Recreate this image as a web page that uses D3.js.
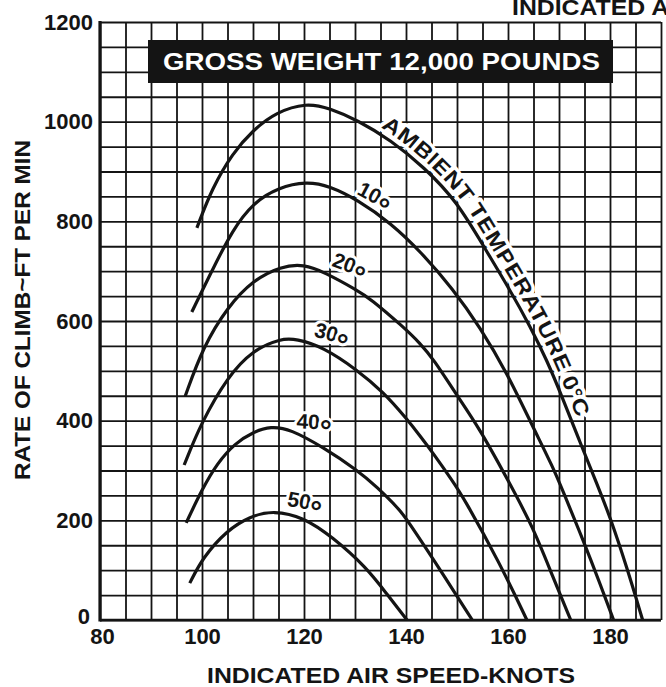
<!DOCTYPE html>
<html>
<head>
<meta charset="utf-8">
<script src="https://cdn.jsdelivr.net/npm/d3@7"></script>
<style>
  html, body { margin: 0; padding: 0; background: #fff; }
  svg { display: block; }
  text { font-family: "Liberation Sans", Arial, Helvetica, sans-serif; }
</style>
</head>
<body>
<svg id="chart" width="666" height="687"></svg>
<script>
// Rate of climb (ft/min) against indicated air speed (knots), one curve per ambient temperature (°C)
const temperatures = [0, 10, 20, 30, 40, 50];

const climb0 = [[99,787],[102,867],[106,937],[110,983],[114.5,1019],[120.5,1038],[125,1027],[130.5,1003],[137,963],[143.5,909],[150,840],[155.5,745],[160.4,662],[164.3,590],[167.6,522],[170.8,443],[174.1,357],[177.5,272],[180,207],[183.3,106],[186.4,0]];
const climb10 = [[98,618],[102,702],[106,783],[110,837],[115,868],[120.5,880],[125,871],[130.5,843],[137,797],[143,738],[149.2,664],[154.5,588],[159.8,496],[164.9,387],[168.8,307],[170.8,258],[174.7,161],[178,74],[180.7,0]];
const climb20 = [[96.7,449],[100.2,548],[105,628],[110,682],[115.5,710],[120,714],[124,698],[130.4,662],[133,645],[139.5,588],[142.7,556],[145.5,522],[149.5,458],[154.5,383],[159.8,284],[164.9,187],[168.8,86],[172.3,0]];
const climb30 = [[96.5,311],[99.8,395],[105,488],[110,542],[115.5,565],[118.5,564],[123.7,548],[130.4,502],[135.5,458],[140.2,403],[142.7,370],[145.3,335],[149.2,278],[151.2,247],[158.4,114],[163.7,0]];
const climb40 = [[96.9,195],[100,262],[103,315],[106.5,355],[110,377],[113.5,389],[117.3,383],[123.7,347],[130.4,301],[134.3,267],[138.8,221],[140.2,201],[145.3,123],[153,0]];
const climb50 = [[97.6,74],[100.2,126],[104.9,180],[109.4,208],[114,220],[120,206],[125.5,167],[132.2,106],[136.1,54],[140.2,0]];
const climbCurves = [climb0, climb10, climb20, climb30, climb40, climb50];

const speedTicks = [80, 100, 120, 140, 160, 180];
const climbTicks = [0, 200, 400, 600, 800, 1000, 1200];
const speedDomain = [80, 190];
const climbDomain = [0, 1200];
const speedGridStep = 5;
const climbGridStep = 50;

const boxTitle = "GROSS WEIGHT 12,000 POUNDS";
const xTitle = "INDICATED AIR SPEED-KNOTS";
const yTitle = "RATE OF CLIMB~FT PER MIN";
const ambientLabel = "AMBIENT TEMPERATURE 0°C";
// temperature labels placed beside their curves: [temperature, knots, ft/min, tilt in degrees]
const tempLabels = [[10, 133.9, 851, 28], [20, 129.0, 712, 20], [30, 125.5, 574, 15], [40, 122.0, 397, 3], [50, 120.2, 237, 10]];
// stretch of the 0 °C curve carrying the ambient-temperature caption (knots)
const ambientSpan = [134.5, 172.5];

// ---- layout ----
const ink = "#141414";
const plot = { left: 100, right: 661, top: 22, bottom: 620 };

const svg = d3.select("#chart");
svg.append("rect").attr("width", 666).attr("height", 687).attr("fill", "#fff");

const x = d3.scaleLinear().domain(speedDomain).range([plot.left, plot.right]);
const y = d3.scaleLinear().domain(climbDomain).range([plot.bottom, plot.top]);

// grid: every 5 knots and every 50 ft/min
const gridX = d3.range(speedDomain[0], speedDomain[1] + 0.001, speedGridStep);
const gridY = d3.range(climbDomain[0], climbDomain[1] + 0.001, climbGridStep);

const grid = svg.append("g");
grid.append("g")
  .attr("transform", `translate(0,${plot.bottom})`)
  .call(d3.axisBottom(x).tickValues(gridX).tickSize(-(plot.bottom - plot.top)).tickFormat(""))
  .call(g => g.select(".domain").remove())
  .call(g => g.selectAll("line").attr("stroke", ink).attr("stroke-width", 1.8));
grid.append("g")
  .attr("transform", `translate(${plot.left},0)`)
  .call(d3.axisLeft(y).tickValues(gridY).tickSize(-(plot.right - plot.left)).tickFormat(""))
  .call(g => g.select(".domain").remove())
  .call(g => g.selectAll("line").attr("stroke", ink).attr("stroke-width", 1.8));

// heavier frame on the two value axes
svg.append("line").attr("x1", x(speedDomain[0])).attr("x2", x(speedDomain[0]))
  .attr("y1", y(climbDomain[1]) - 1).attr("y2", y(0) + 1.5)
  .attr("stroke", ink).attr("stroke-width", 3.2);
svg.append("line").attr("x1", x(speedDomain[0])).attr("x2", x(speedDomain[1]))
  .attr("y1", y(0)).attr("y2", y(0))
  .attr("stroke", ink).attr("stroke-width", 2.6);

// tick labels
const tickFont = g => g.selectAll("text")
  .attr("fill", ink).attr("font-size", 22).attr("font-weight", "bold")
  .attr("font-family", '"Liberation Sans", Arial, sans-serif');

svg.append("g")
  .attr("transform", `translate(0,${plot.bottom})`)
  .call(d3.axisBottom(x).tickValues(speedTicks).tickSize(0).tickPadding(8).tickFormat(d3.format("d")))
  .call(g => g.select(".domain").remove())
  .call(tickFont)
  .call(g => g.selectAll(".tick text").filter(d => d === speedDomain[0]).attr("dx", 2));

svg.append("g")
  .attr("transform", `translate(${plot.left},0)`)
  .call(d3.axisLeft(y).tickValues(climbTicks).tickSize(0).tickPadding(7).tickFormat(d3.format("d")))
  .call(g => g.select(".domain").remove())
  .call(tickFont)
  .call(g => g.selectAll(".tick text").filter(d => d === 0).attr("dx", -3).attr("dy", "0.18em"));

// axis titles
svg.append("text")
  .attr("x", (207 + 575) / 2).attr("y", 683)
  .attr("text-anchor", "middle").attr("font-size", 22).attr("font-weight", "bold")
  .attr("textLength", 368).attr("lengthAdjust", "spacingAndGlyphs")
  .attr("fill", ink).text(xTitle);

svg.append("text")
  .attr("transform", "translate(30,310) rotate(-90)")
  .attr("text-anchor", "middle").attr("font-size", 22).attr("font-weight", "bold")
  .attr("textLength", 340).attr("lengthAdjust", "spacingAndGlyphs")
  .attr("fill", ink).text(yTitle);

// axis title repeated along the top edge (runs off the page)
svg.append("text")
  .attr("x", 512).attr("y", 15)
  .attr("font-size", 22).attr("font-weight", "bold")
  .attr("textLength", 368).attr("lengthAdjust", "spacingAndGlyphs")
  .attr("fill", ink).text(xTitle);

// black title banner
svg.append("rect").attr("x", 148).attr("y", 40).attr("width", 465).attr("height", 43).attr("fill", ink);
svg.append("text")
  .attr("x", 381.5).attr("y", 70)
  .attr("text-anchor", "middle").attr("font-size", 23).attr("font-weight", "bold")
  .attr("textLength", 437).attr("lengthAdjust", "spacingAndGlyphs")
  .attr("fill", "#fff").text(boxTitle);

// curves
const line = d3.line().x(d => x(d[0])).y(d => y(d[1])).curve(d3.curveBasis);

// caption along the outer side of the 0 °C curve
const probe = svg.append("path").attr("d", line(climb0)).attr("fill", "none").node();
const total = probe.getTotalLength();
const samples = [];
for (let s = 0; s <= total; s += 1.5) { const p = probe.getPointAtLength(s); samples.push([p.x, p.y]); }
d3.select(probe).remove();
const gap = 6;
const shifted = samples.map((p, i) => {
  const a = samples[Math.max(0, i - 2)], b = samples[Math.min(samples.length - 1, i + 2)];
  const dx = b[0] - a[0], dy = b[1] - a[1], L = Math.hypot(dx, dy) || 1;
  return [p[0] + dy / L * gap, p[1] - dx / L * gap, p[0]];
});
let acc = 0, startLen = 0, endLen = 0;
const x0 = x(ambientSpan[0]), x1 = x(ambientSpan[1]);
shifted.forEach((p, i) => {
  if (i > 0) acc += Math.hypot(p[0] - shifted[i - 1][0], p[1] - shifted[i - 1][1]);
  if (p[2] <= x0) startLen = acc;
  if (p[2] <= x1) endLen = acc;
});
svg.append("defs").append("path").attr("id", "ambientPath")
  .attr("d", d3.line()(shifted.map(p => [p[0], p[1]])));

const labelLayer = svg.append("g");
labelLayer.append("text")
  .attr("font-size", 21).attr("font-weight", "bold").attr("fill", ink)
  .attr("stroke", "#fff").attr("stroke-width", 7).attr("stroke-linejoin", "round")
  .style("paint-order", "stroke")
  .append("textPath").attr("href", "#ambientPath")
  .attr("startOffset", startLen)
  .attr("textLength", endLen - startLen).attr("lengthAdjust", "spacingAndGlyphs")
  .text(ambientLabel);

// temperature labels
tempLabels.forEach(([t, k, r, tilt]) => {
  const txt = labelLayer.append("text")
    .attr("transform", `translate(${x(k)},${y(r)}) rotate(${tilt})`)
    .attr("y", 7).attr("text-anchor", "middle")
    .attr("font-size", 21).attr("font-weight", "bold").attr("fill", ink)
    .attr("stroke", "#fff").attr("stroke-width", 6).attr("stroke-linejoin", "round")
    .style("paint-order", "stroke");
  txt.append("tspan").text(t);
  txt.append("tspan").attr("font-size", 30).attr("dy", 11).text("°");
});

svg.append("g").selectAll("path")
  .data(climbCurves)
  .join("path")
  .attr("d", line)
  .attr("fill", "none")
  .attr("stroke", ink)
  .attr("stroke-width", 3.2)
  .attr("stroke-linecap", "butt");
</script>
</body>
</html>
